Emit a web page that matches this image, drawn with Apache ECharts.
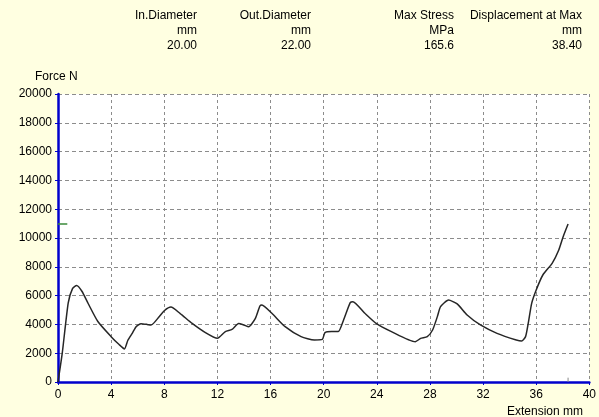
<!DOCTYPE html>
<html><head><meta charset="utf-8">
<script src="https://cdn.jsdelivr.net/npm/echarts@6/dist/echarts.min.js"></script>
<style>html,body{margin:0;padding:0;background:#FFFFE1;}#c{width:599px;height:417px;}</style>
</head><body><div id="c"></div>
<script>
const extension = [0, 0.32, 0.77, 1.1, 1.4, 1.8, 2.27, 3.0, 4.0, 4.6, 5.0, 5.26, 5.6, 5.88, 6.25, 6.7, 7.0, 7.63, 8.0, 8.5, 9.2, 10.1, 11.1, 12.0, 12.6, 13.1, 13.6, 14.0, 14.35, 14.86, 15.2, 15.35, 16.1, 17.1, 18.3, 19.3, 19.9, 20.1, 20.6, 21.1, 21.5, 22.0, 22.2, 23.1, 23.95, 25.1, 26.9, 27.3, 27.8, 28.2, 28.56, 28.8, 29.4, 30.05, 30.8, 31.8, 33.05, 34.5, 34.9, 35.2, 35.4, 35.66, 36.0, 36.5, 37.2, 37.7, 38.03, 38.4];
const force = [0, 2000, 5500, 6500, 6700, 6300, 5450, 4200, 3150, 2600, 2300, 2900, 3400, 3840, 4050, 4000, 3950, 4550, 4950, 5200, 4750, 4070, 3430, 3030, 3500, 3650, 4070, 3960, 3840, 4420, 5280, 5350, 4770, 3840, 3150, 2920, 2960, 3430, 3500, 3500, 4310, 5510, 5580, 4770, 4070, 3500, 2800, 3030, 3150, 3610, 4540, 5230, 5690, 5420, 4650, 3960, 3380, 2920, 2850, 3150, 4070, 5460, 6390, 7430, 8240, 9170, 10090, 10970];
const maxForce = 10970;
const maxForceMarkX = [0, 0.7];
const dispAtMax = 38.4;
const dispMarkY = [0, 300];
const headerNames = ["In.Diameter", "Out.Diameter", "Max Stress", "Displacement at Max"];
const headerUnits = ["mm", "mm", "MPa", "mm"];
const headerValues = ["20.00", "22.00", "165.6", "38.40"];
const headerRight = [197, 311, 454, 582];
const yAxisName = "Force N";
const xAxisName = "Extension mm";

const FONT = "'Liberation Sans', Arial, sans-serif";
const chart = echarts.init(document.getElementById('c'), null, {renderer: 'canvas'});
const graphics = [];
headerNames.forEach((n, i) => {
  [n, headerUnits[i], headerValues[i]].forEach((t, r) => {
    graphics.push({type: 'text', right: 599 - headerRight[i], top: 10 + r * 15,
      style: {text: t, fill: '#000', font: '12px ' + FONT, textAlign: 'right'}});
  });
});
graphics.push({type: 'text', left: 35, top: 71, style: {text: yAxisName, fill: '#000', font: '12px ' + FONT}});
graphics.push({type: 'text', right: 16, top: 406, style: {text: xAxisName, fill: '#000', font: '12px ' + FONT, textAlign: 'right'}});

const blue = '#0000CC';
chart.setOption({
  backgroundColor: '#FFFFE1',
  animation: false,
  graphic: graphics,
  grid: {left: 58, right: 7, top: 94, bottom: 35, show: true, backgroundColor: '#FFFFFF', borderWidth: 0},
  xAxis: {type: 'value', min: 0, max: 40, interval: 4,
    axisLine: {show: true, onZero: false, lineStyle: {color: blue, width: 2.5}},
    axisTick: {show: true, length: 3, lineStyle: {color: blue}},
    axisLabel: {color: '#000', fontSize: 12, fontFamily: FONT, margin: 7, formatter: v => String(v)},
    splitLine: {show: true, lineStyle: {color: '#8c8c8c', type: [3, 3], width: 1}}},
  yAxis: {type: 'value', min: 0, max: 20000, interval: 2000,
    axisLine: {show: true, onZero: false, lineStyle: {color: blue, width: 2.5}},
    axisTick: {show: true, length: 3, lineStyle: {color: blue}},
    axisLabel: {color: '#000', fontSize: 12, fontFamily: FONT, margin: 6, formatter: v => String(v)},
    splitLine: {show: true, lineStyle: {color: '#8c8c8c', type: [4, 3], width: 1}}},
  series: [
    {type: 'line', data: extension.map((x, i) => [x, force[i]]), showSymbol: false, smooth: 0.2,
     lineStyle: {color: '#262626', width: 1.5}, z: 5},
    {type: 'line', data: maxForceMarkX.map(x => [x, maxForce]), showSymbol: false,
     lineStyle: {color: '#3a8a3a', width: 1.5}, z: 6},
    {type: 'line', data: dispMarkY.map(y => [dispAtMax, y]), showSymbol: false,
     lineStyle: {color: '#888', width: 1}, z: 6}
  ]
});
</script></body></html>
